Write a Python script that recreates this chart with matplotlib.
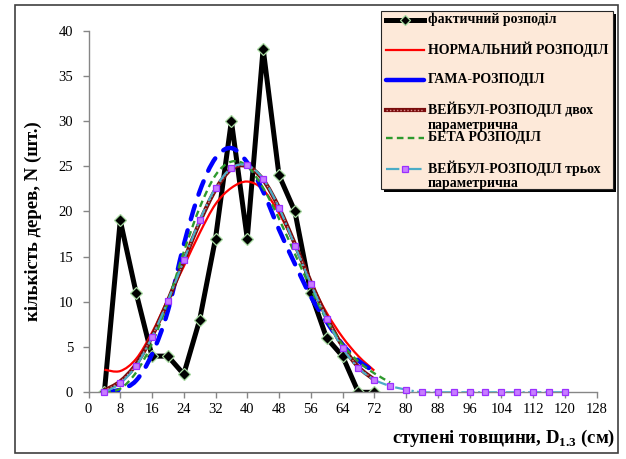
import numpy as np
import matplotlib
matplotlib.use("Agg")
import matplotlib.pyplot as plt
from matplotlib.path import Path
from matplotlib.patches import PathPatch, Rectangle
from matplotlib.lines import Line2D

plt.rcParams['font.family'] = ['Liberation Serif', 'DejaVu Serif']
plt.rcParams['mathtext.fontset'] = 'custom'
plt.rcParams['mathtext.rm'] = 'Liberation Serif'
plt.rcParams['mathtext.bf'] = 'Liberation Serif:bold'

# Diameter classes (cm) and tree counts
d_actual = [4, 8, 12, 16, 20, 24, 28, 32, 36, 40, 44, 48, 52, 56, 60, 64, 68, 72]
n_actual = [0, 19, 11, 4, 4, 2, 8, 17, 30, 17, 38, 24, 20, 11, 6, 4, 0, 0]

d_fit = [4, 8, 12, 16, 20, 24, 28, 32, 36, 40, 44, 48, 52, 56, 60, 64, 68, 72]
n_normal = [2.5, 2.35, 3.7, 6.6, 10.3, 13.9, 17.6, 20.8, 22.6, 23.3, 22.4, 19.8, 16.3, 12.2, 8.8, 6.1, 4.0, 2.4]
n_gamma = [0.0, 0.3, 1.3, 4.2, 9.0, 16.3, 22.2, 25.9, 27.0, 25.4, 22.2, 18.0, 14.2, 10.6, 7.8, 5.3, 3.5, 2.3]
n_weibull2 = [0.2, 1.2, 3.1, 6.2, 10.1, 14.5, 18.8, 22.4, 24.7, 25.0, 23.5, 20.4, 16.4, 12.2, 8.3, 5.1, 2.8, 1.4]

d_beta = [4, 8, 12, 16, 20, 24, 28, 32, 36, 40, 44, 48, 52, 56, 60, 64, 68, 72, 76]
n_beta = [0.0, 0.4, 2.2, 5.4, 10.0, 15.5, 20.4, 24.0, 25.5, 25.0, 22.6, 19.2, 15.3, 11.5, 8.0, 5.3, 3.4, 2.1, 1.1]

d_weibull3 = [4, 8, 12, 16, 20, 24, 28, 32, 36, 40, 44, 48, 52, 56, 60,
              64, 68, 72, 76, 80, 84, 88, 92, 96, 100, 104, 108, 112, 116, 120]
n_weibull3 = [0.0, 1.0, 2.9, 6.1, 10.1, 14.6, 19.0, 22.6, 24.8, 25.1, 23.6, 20.4, 16.2, 12.0, 8.1,
              4.9, 2.7, 1.4, 0.7, 0.3, 0, 0, 0, 0, 0, 0, 0, 0, 0, 0]

x_ticks = list(range(0, 129, 8))
y_ticks = list(range(0, 41, 5))

legend_labels = [
    ["фактичний розподіл"],
    ["НОРМАЛЬНИЙ РОЗПОДІЛ"],
    ["ГАМА-РОЗПОДІЛ"],
    ["ВЕЙБУЛ-РОЗПОДІЛ двох", "параметрична"],
    ["БЕТА РОЗПОДІЛ"],
    ["ВЕЙБУЛ-РОЗПОДІЛ трьох", "параметрична"],
]

W, H = 626, 459
fig = plt.figure(figsize=(W / 100, H / 100), dpi=100)
fig.patch.set_facecolor('white')


def fx(px):
    return px / W


def fy(py):
    return 1 - py / H


def smooth_path(x, y):
    """Cubic Bezier path through the points (spreadsheet-style smoothed line)."""
    pts = np.column_stack([x, y]).astype(float)
    n = len(pts)
    verts = [pts[0]]
    codes = [Path.MOVETO]
    for i in range(n - 1):
        p0 = pts[i - 1] if i > 0 else pts[i]
        p1 = pts[i]
        p2 = pts[i + 1]
        p3 = pts[i + 2] if i + 2 < n else pts[i + 1]
        c1 = p1 + (p2 - p0) / 6.0
        c2 = p2 - (p3 - p1) / 6.0
        verts += [c1, c2, p2]
        codes += [Path.CURVE4] * 3
    return Path(verts, codes)


ax = fig.add_axes([fx(88.5), fy(392.3), fx(596.5) - fx(88.5), fy(30.5) - fy(392.3)])
ax.set_facecolor('white')

# Observed distribution
ax.plot(d_actual, n_actual, color='black', lw=3.6, solid_joinstyle='miter',
        marker='D', markersize=6.5, markerfacecolor='black', markeredgecolor='#a6d9a0',
        markeredgewidth=0.9, zorder=2)

# Fitted distributions (smoothed)
ax.add_patch(PathPatch(smooth_path(d_fit, n_normal), fill=False, edgecolor='#ff0000',
                       lw=1.6, zorder=3))
ax.add_patch(PathPatch(smooth_path(d_fit, n_gamma), fill=False, edgecolor='#0000ff',
                       lw=3.2, linestyle=(0, (3.2, 2.6)), capstyle='round', zorder=4))
ax.add_patch(PathPatch(smooth_path(d_fit, n_weibull2), fill=False, edgecolor='#7a0c0c',
                       lw=3.0, zorder=5))
ax.add_patch(PathPatch(smooth_path(d_fit, n_weibull2), fill=False, edgecolor='#d98c8c',
                       lw=1.0, linestyle=(0, (1, 1.5)), zorder=5))
ax.add_patch(PathPatch(smooth_path(d_beta, n_beta), fill=False, edgecolor='#2e9a2e',
                       lw=1.7, linestyle=(0, (2.8, 1.8)), zorder=6))
ax.add_patch(PathPatch(smooth_path(d_weibull3, n_weibull3), fill=False, edgecolor='#4bacc6',
                       lw=1.6, linestyle=(0, (6, 1.5, 1, 1.5)), zorder=7))
ax.plot(d_weibull3, n_weibull3, linestyle='none', marker='s', markersize=4.6,
        markerfacecolor='#c77dff', markeredgecolor='#9b30ff', markeredgewidth=0.9,
        zorder=8, clip_on=False)

ax.set_xlim(0, 128)
ax.set_ylim(0, 40)
ax.set_xticks(x_ticks)
ax.set_yticks(y_ticks)
for s in ['top', 'right']:
    ax.spines[s].set_visible(False)
for s in ['left', 'bottom']:
    ax.spines[s].set_color('#868686')
    ax.spines[s].set_linewidth(1.0)
ax.tick_params(axis='both', direction='out', length=4, width=1, color='#868686',
               labelsize=10.5, labelcolor='black')
ax.tick_params(axis='y', pad=7)
ax.tick_params(axis='x', pad=4)

# Axis titles
fig.text(fx(33), fy(221), "кількість дерев, N (шт.)", rotation=90, ha='center', va='center',
         fontsize=13.5, fontweight='bold')
fig.text(fx(615), fy(438), r"ступені товщини, D$_{\mathbf{1.3}}$ (см)", ha='right', va='center',
         fontsize=13.5, fontweight='bold')

# Outer frame
fig.patches.append(Rectangle((fx(15), fy(453)), fx(618) - fx(15), fy(5) - fy(453),
                             transform=fig.transFigure, fill=False, edgecolor='#404040',
                             lw=1.2, zorder=0))

# Legend box with shadow
lx0, ly0, lx1, ly1 = 381, 11, 613, 189
fig.patches.append(Rectangle((fx(lx0 + 3), fy(ly1 + 3)), fx(lx1) - fx(lx0), fy(ly0) - fy(ly1),
                             transform=fig.transFigure, facecolor='black', edgecolor='black',
                             lw=0, zorder=10))
fig.patches.append(Rectangle((fx(lx0), fy(ly1)), fx(lx1) - fx(lx0), fy(ly0) - fy(ly1),
                             transform=fig.transFigure, facecolor='#fde9d9', edgecolor='#262626',
                             lw=0.8, zorder=11))

entry_y = [19.5, 49.5, 79.5, 109.5, 138.0, 168.5]
second_dy = 15.5
hx0, hx1 = 386, 424
tr = fig.transFigure


def hline(y, **kw):
    fig.add_artist(Line2D([fx(hx0), fx(hx1)], [fy(y), fy(y)], transform=tr, zorder=12, **kw))


hline(entry_y[0], color='black', lw=3.6)
fig.add_artist(Line2D([fx((hx0 + hx1) / 2)], [fy(entry_y[0])], transform=tr, marker='D',
                      markersize=5, markerfacecolor='black', markeredgecolor='#a6d9a0',
                      markeredgewidth=0.9, zorder=13))
hline(entry_y[1], color='#ff0000', lw=1.6)
hline(entry_y[2], color='#0000ff', lw=3.2, solid_capstyle='round')
hline(entry_y[3], color='#7a0c0c', lw=3.0)
hline(entry_y[3], color='#d98c8c', lw=1.0, linestyle=(0, (1, 1.5)))
hline(entry_y[4], color='#2e9a2e', lw=1.7, linestyle=(0, (2.8, 1.8)))
hline(entry_y[5], color='#4bacc6', lw=1.6, linestyle=(0, (6, 1.5, 1, 1.5)))
fig.add_artist(Line2D([fx(405)], [fy(entry_y[5])], transform=tr, marker='s', markersize=4.6,
                      markerfacecolor='#c77dff', markeredgecolor='#9b30ff', markeredgewidth=0.9,
                      zorder=13))

for y, lines in zip(entry_y, legend_labels):
    for k, line in enumerate(lines):
        fig.text(fx(428), fy(y + k * second_dy), line, ha='left', va='center',
                 fontsize=10, fontweight='bold', zorder=14)

fig.savefig('out.png', dpi=100, facecolor='white')
